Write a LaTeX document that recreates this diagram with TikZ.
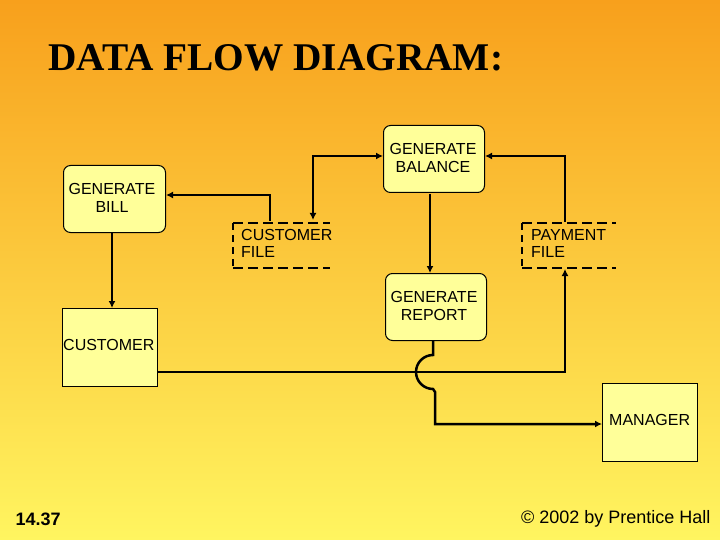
\documentclass[tikz,border=0pt]{standalone}
\usepackage{fontspec}
\setmainfont{Liberation Sans}
\newfontfamily\titlefont{Liberation Serif}
\usetikzlibrary{arrows.meta}
\definecolor{topc}{HTML}{F8A01C}
\definecolor{botc}{HTML}{FFF560}
\definecolor{boxc}{HTML}{FFFF99}
\begin{document}
\begin{tikzpicture}[x=1pt,y=-1pt,
  proc/.style={draw,fill=boxc,rounded corners=7pt,line width=1pt,anchor=north west},
  ent/.style={draw,fill=boxc,line width=0.8pt,anchor=north west},
  txt/.style={font=\fontsize{16}{17.5}\selectfont,align=center},
  lbl/.style={font=\fontsize{16}{17.5}\selectfont,align=left,anchor=north west,inner sep=0pt},
  flow/.style={line width=2.5pt,-{Latex[length=7pt,width=7pt]}},
  dsh/.style={line width=2.2pt,dash pattern=on 10pt off 5pt}]
\shade[top color=topc,bottom color=botc] (0,0) rectangle (720,540);
\useasboundingbox (0,0) rectangle (720,540);
\node[anchor=west,inner sep=0pt] (title) at (48,58) {\resizebox{455pt}{26pt}{\titlefont\bfseries DATA FLOW DIAGRAM:}};
% processes
\node[proc,minimum width=101pt,minimum height=67pt] (gbal) at (383,125) {};
\node[txt] (gbalt) at (433,158) {GENERATE\\BALANCE};
\node[proc,minimum width=102pt,minimum height=67pt] (gbill) at (63,165) {};
\node[txt] (gbillt) at (112,198) {GENERATE\\BILL};
\node[proc,minimum width=101pt,minimum height=67pt] (grep) at (385,273) {};
\node[txt] (grept) at (434,306) {GENERATE\\REPORT};
% entities
\node[ent,minimum width=95pt,minimum height=78pt] (cust) at (62,308) {};
\node[lbl] (custt) at (63,339) {CUSTOMER};
\node[ent,minimum width=95pt,minimum height=78pt] (mgr) at (602,383) {};
\node[lbl] (mgrt) at (609,414) {MANAGER};
% data stores
\coordinate (cfa) at (233,223); \coordinate (cfb) at (330,223);
\coordinate (cfc) at (233,268); \coordinate (cfd) at (330,268);
\draw[dsh] (cfa)--(cfb) (cfc)--(cfd);
\draw[line width=2.2pt,dash pattern=on 7pt off 5pt] (cfa)--(cfc);
\node[lbl] (cft) at (241,229) {CUSTOMER\\FILE};
\coordinate (pfa) at (522,223); \coordinate (pfb) at (616,223);
\coordinate (pfc) at (522,268); \coordinate (pfd) at (616,268);
\draw[dsh] (pfa)--(pfb) (pfc)--(pfd);
\draw[line width=2.2pt,dash pattern=on 7pt off 5pt] (pfa)--(pfc);
\node[lbl] (pft) at (531,229) {PAYMENT\\FILE};
% flows
\coordinate (c1) at (313,220);
\draw[line width=2.5pt,{Latex[length=7pt,width=7pt]}-{Latex[length=7pt,width=7pt]}] (c1) |- (gbal.west |- 0,156);
\coordinate (c2) at (565,222);
\draw[flow] (c2) |- (gbal.east |- 0,156);
\coordinate (c3) at (270,221);
\draw[flow] (c3) |- (gbill.east |- 0,195);
\draw[flow] (430,194) -- (grep.north -| 430,0);
\draw[flow] (112,232) -- (cust.north -| 112,0);
\coordinate (pfin) at (565,269);
\draw[flow] (cust.east |- 0,372) -- (565,372) -- (pfin);
\draw[flow] (433,340) -- (433,355) arc[start angle=-90,end angle=-270,radius=17] -- (435,392) -- (435,424) -- (mgr.west |- 0,424);
% footer
\node[anchor=west,font=\fontsize{18}{19}\selectfont\bfseries] (num) at (12,519) {14.37};
\node[anchor=east,font=\fontsize{18}{19}\selectfont] (copy) at (714,519) {© 2002 by Prentice Hall};
\end{tikzpicture}
\end{document}
